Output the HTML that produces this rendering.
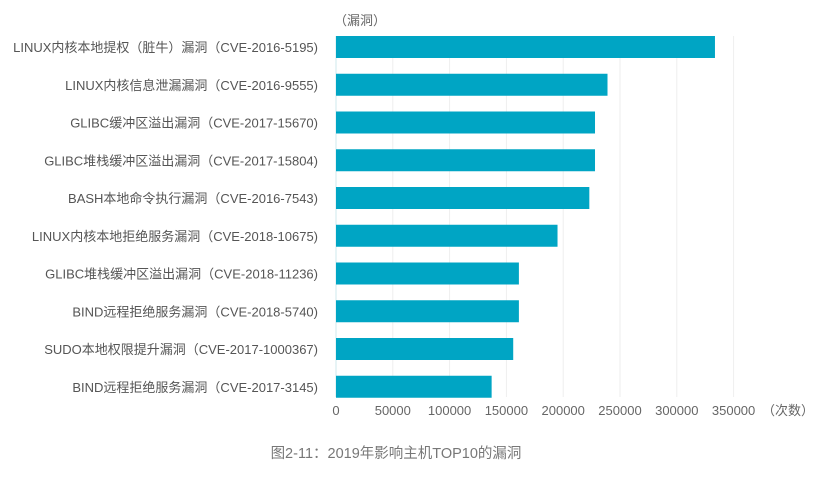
<!DOCTYPE html>
<html><head><meta charset="utf-8"><style>
body{margin:0;background:#fff;width:840px;height:474px;overflow:hidden;font-family:"Liberation Sans","Noto Sans CJK SC",sans-serif;}
svg text{font-family:"Liberation Sans","Noto Sans CJK SC",sans-serif;}
</style></head><body>
<svg id="chart" width="840" height="474" xmlns="http://www.w3.org/2000/svg"></svg>
<script>
const categories=["LINUX内核本地提权（脏牛）漏洞（CVE-2016-5195)","LINUX内核信息泄漏漏洞（CVE-2016-9555)","GLIBC缓冲区溢出漏洞（CVE-2017-15670)","GLIBC堆栈缓冲区溢出漏洞（CVE-2017-15804)","BASH本地命令执行漏洞（CVE-2016-7543)","LINUX内核本地拒绝服务漏洞（CVE-2018-10675)","GLIBC堆栈缓冲区溢出漏洞（CVE-2018-11236)","BIND远程拒绝服务漏洞（CVE-2018-5740)","SUDO本地权限提升漏洞（CVE-2017-1000367)","BIND远程拒绝服务漏洞（CVE-2017-3145)"];
const values=[333600,239000,228000,228000,223000,195000,161000,161000,156000,137000];
const ticks=[0,50000,100000,150000,200000,250000,300000,350000];
const NS="http://www.w3.org/2000/svg";
const svg=document.getElementById('chart');
const x0=336,pxPer=56.8/50000;
const xs=v=>x0+v*pxPer;
const y0=47,pitch=37.75,bh=22;
const ys=i=>y0+i*pitch;
function mk(t,a){const e=document.createElementNS(NS,t);for(const k in a)e.setAttribute(k,a[k]);svg.appendChild(e);return e;}
ticks.forEach(t=>{
 if(t>0){const g=mk('line',{x1:xs(t),x2:xs(t),y1:36,y2:397,stroke:'#eeeeee','stroke-width':1});
 
 }
 const l=mk('text',{x:xs(t),y:415,'font-size':13,fill:'#666','text-anchor':'middle'});l.textContent=t;
 
 
});
const u=mk('text',{x:762,y:415,'font-size':13,fill:'#666'});u.textContent='（次数）';


const yu=mk('text',{x:334,y:25,'font-size':13,fill:'#666'});yu.textContent='（漏洞）';


mk('line',{x1:x0,x2:x0,y1:36,y2:397,stroke:'#cfe8ee','stroke-width':1});
categories.forEach((c,i)=>{
 const r=mk('rect',{x:x0,y:ys(i)-bh/2,width:xs(values[i])-x0,height:bh,fill:'#00a5c4'});
 
 
 const t=mk('text',{x:318,y:ys(i)+5,'font-size':13,fill:'#555','text-anchor':'end'});t.textContent=c;
 
 
});
const cap=mk('text',{x:396,y:458,'font-size':14.5,fill:'#777','text-anchor':'middle'});cap.textContent='图2-11：2019年影响主机TOP10的漏洞';


</script>
</body></html>
